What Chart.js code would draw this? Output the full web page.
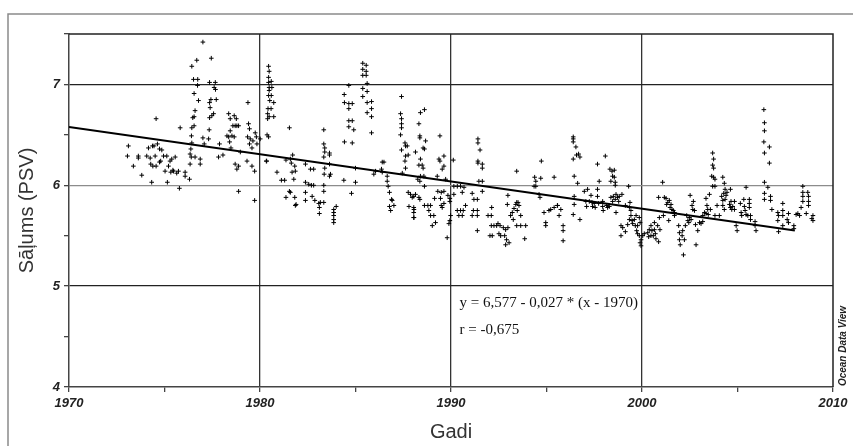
<!DOCTYPE html>
<html>
<head>
<meta charset="utf-8">
<script src="https://cdn.jsdelivr.net/npm/chart.js@4/dist/chart.umd.min.js"></script>
<style>
html,body{margin:0;padding:0;background:#fff;}
canvas{display:block;}
</style>
</head>
<body>
<canvas id="c" width="853" height="446"></canvas>
<script>
// ---- data ----
const yearsA = [
1973.11,1973.06,1973.63,1973.63,1973.37,1973.81,1974.07,1974.16,1974.25,1974.37,
1974.45,1974.28,1974.39,1974.33,1974.51,1974.56,1974.56,1974.63,1974.74,1974.74,
1974.80,1974.86,1974.95,1975.03,1975.12,1975.21,1975.15,1975.29,1975.33,1975.38,
1975.44,1975.47,1975.56,1975.64,1975.73,1975.82,1975.78,1976.08,1976.08,1976.31,
1976.34,1976.38,1976.34,1976.40,1976.43,1976.41,1976.43,1976.48,1976.55,1976.55,
1976.60,1976.55,1976.52,1976.74,1976.73,1976.78,1976.43,1976.69,1977.01,1976.87,
1976.87,1976.60,1977.01,1977.08,1977.31,1977.34,1977.36,1977.39,1977.36,1977.43,
1977.48,1977.45,1977.36,1977.66,1977.60,1977.67,1977.71,1977.57,1977.88,1977.83,
1978.06,1978.36,1978.44,1978.65,1978.58,1978.70,1978.79,1978.88,1978.76,1978.44,
1978.27,1978.36,1978.53,1978.41,1978.65,1978.48,1978.70,1978.79,1978.88,1978.88,
1978.97,1979.37,1979.40,1979.45,1979.35,1979.49,1979.45,1979.58,1979.63,1979.75,
1979.81,1979.84,1979.32,1979.58,1979.72,1979.72,1980.01,1980.33];
const salA = [
6.39,6.29,6.29,6.27,6.19,6.10,6.29,6.37,6.27,6.39,
6.39,6.21,6.19,6.03,6.29,6.19,6.66,6.41,6.36,6.23,
6.24,6.35,6.29,6.14,6.29,6.19,6.03,6.24,6.13,6.26,
6.15,6.14,6.28,6.12,6.14,6.57,5.97,6.13,6.09,6.06,
6.21,6.36,6.31,6.28,6.42,6.49,6.57,6.67,6.68,6.59,
6.74,6.91,7.05,7.05,6.99,6.84,7.18,7.24,7.42,6.26,
6.21,6.28,6.47,6.41,6.46,6.55,6.67,6.77,6.82,6.85,
6.69,7.26,7.02,7.02,6.97,6.95,6.85,6.71,6.41,6.28,
6.30,6.71,6.66,6.69,6.59,6.59,6.59,6.59,6.66,6.54,
6.49,6.48,6.49,6.43,6.48,6.37,6.21,6.16,6.19,5.94,
6.33,6.82,6.61,6.56,6.48,6.46,6.41,6.37,6.44,6.52,
6.48,6.41,6.24,6.19,6.14,5.85,6.46,6.24];

const yearsB = [
1980.45,1980.48,1980.45,1980.59,1980.45,1980.48,1980.62,1980.48,1980.45,1980.59,
1980.51,1980.72,1980.42,1980.58,1980.40,1980.48,1980.72,1980.40,1980.37,1980.45,
1980.35,
1980.89,1981.12,1981.29,1981.36,1981.54,1981.36,1981.59,1981.71,1981.64,1981.68,
1981.82,1981.85,1981.77,1981.59,1981.54,1981.82,1981.89,1981.85,1982.38,1982.38,
1982.38,1982.38,1982.64,1982.81,1982.55,1982.69,1982.81,1982.73,1982.87,1983.08,
1983.16,1983.11,1983.11,1983.34,1983.34,1983.34,1983.36,1983.39,1983.34,1983.39,
1983.39,1983.34,1983.34,1983.64,1983.64,1983.64,1983.69,1983.64,1983.86,1983.86,
1983.86,1983.86,1983.86,1983.99,1984.39,1984.42,1984.41,1984.42,1984.65,1984.65,
1984.65,1984.83,1984.65,1984.83,1984.65,1984.91,1984.83,1984.79,1985.00,1985.00,
1985.38,1985.56,1985.38,1985.56,1985.38,1985.56,1985.61,1985.38,1985.61,1985.38,
1985.61,1985.84,1985.84,1985.61,1985.84,1985.84,1985.96,1986.05,1986.36,1986.40,
1986.49,1986.40,1986.66,1986.66,1986.71,1986.78,1986.89,1986.78,1986.84,1987.01,
1986.92,1987.41,1987.36,1987.41,1987.41,1987.41,1987.36,1987.59,1987.62,1987.71,
1987.41,1987.62,1987.76,1987.59,1987.45,1987.62,1987.76,1987.88,1987.97,1987.80,
1988.06,1988.06];
const salB = [
7.18,7.13,7.07,7.03,7.02,6.97,6.97,6.94,6.89,6.89,
6.84,6.82,6.76,6.76,6.71,6.68,6.68,6.66,6.50,6.48,
6.24,
6.13,6.05,6.05,5.88,6.57,6.25,6.26,6.30,6.22,6.13,
6.19,6.14,6.06,5.93,5.94,5.88,5.81,5.80,6.21,6.03,
5.93,5.85,6.16,6.16,6.01,6.00,6.00,5.89,5.85,5.82,
5.83,5.78,5.72,5.83,5.94,6.00,6.11,6.17,6.28,6.33,
6.37,6.41,6.55,6.32,6.30,6.21,6.11,6.09,5.76,5.73,
5.70,5.66,5.63,5.79,6.05,6.43,6.90,6.82,6.81,6.76,
6.99,6.81,6.64,6.64,6.58,6.55,6.42,5.92,6.03,6.17,
7.21,7.19,7.15,7.13,7.09,7.09,7.01,6.96,6.93,6.88,
6.82,6.83,6.76,6.72,6.68,6.52,6.11,6.14,6.16,6.23,
6.23,6.13,6.09,6.04,5.99,5.93,5.86,5.79,5.75,5.80,
5.85,6.88,6.71,6.66,6.61,6.57,6.50,6.42,6.39,6.39,
6.35,6.29,6.30,6.24,6.12,6.17,5.93,5.91,5.88,5.79,
5.76,5.68];

const yearsC = [
1988.40,1988.61,1988.32,1988.37,1988.37,1988.67,1988.54,1988.61,1988.14,1988.40,
1988.49,1988.32,1988.54,1988.40,1988.58,1988.26,1988.37,1988.61,1988.14,1988.05,
1988.32,1988.37,1988.61,1988.79,1988.93,1988.05,1988.05,1988.05,1988.84,1988.93,
1989.10,1989.02,1989.19,1989.14,1989.42,1989.37,1989.42,1989.63,1989.54,1989.63,
1989.28,1989.72,1989.31,1989.49,1989.63,1989.45,1989.49,1989.63,1989.54,1989.84,
1989.94,1989.94,1990.12,1989.98,1989.94,1989.89,1989.80,1990.15,1990.15,1990.33,
1990.50,1990.59,1990.68,1990.33,1990.41,1990.50,1990.64,1990.59,1990.76,1991.11,
1991.20,1991.17,1991.11,1991.38,1991.38,1991.38,1991.38,1991.41,1991.41,1991.52,
1991.41,1991.41,1991.64,1991.64,1991.46,1991.64,1991.64,1991.94,1992.13,1992.11,
1992.11,1992.16,1992.04,1992.25,1992.39,1992.46,1992.57,1992.51,1992.60,1992.74,
1992.86,1992.81,1992.91,1992.86,1993.04,1992.98,1992.95,1992.98,1993.12,1993.21,
1993.26,1993.30,1993.39,1993.44,1993.51,1993.56,1993.47,1993.65,1993.44,1993.65,
1993.91,1993.86,1993.44,1994.38,1994.44,1994.70,1994.35,1994.44,1994.73,1994.61,
1994.66,1994.87,1994.96,1994.96,1995.13,1995.22,1995.40,1995.40,1995.57];
const salC = [
6.72,6.75,6.61,6.49,6.47,6.44,6.37,6.36,6.33,6.26,
6.20,6.20,6.17,6.09,6.09,6.06,6.04,5.99,5.91,5.89,
5.88,5.86,5.80,5.80,5.80,5.78,5.73,5.68,5.75,5.70,
5.70,5.60,5.63,5.87,6.49,6.26,6.24,6.29,6.16,6.19,
6.09,6.06,5.94,5.93,5.94,5.87,5.80,5.82,5.78,5.90,
5.87,5.84,6.25,5.70,5.65,5.62,5.48,5.99,5.91,5.99,
5.99,5.93,5.98,5.75,5.70,5.75,5.75,5.70,5.80,5.92,
5.86,5.75,5.70,5.86,5.75,5.70,5.55,6.46,6.42,6.35,
6.24,6.22,6.21,6.17,6.04,6.04,5.94,5.70,5.78,5.70,
5.60,5.50,5.50,5.60,5.60,5.62,5.60,5.52,5.50,5.58,
5.56,5.50,5.46,5.41,5.43,5.58,5.81,5.90,5.70,5.73,
5.66,5.77,5.81,5.83,5.83,5.80,5.75,5.70,5.60,5.60,
5.60,5.47,6.14,6.08,6.04,6.07,5.99,5.99,6.24,5.91,
5.88,5.73,5.63,5.60,5.75,5.76,6.08,5.78,5.80];

const yearsD = [
1995.58,1995.75,1995.66,1995.87,1995.87,1995.87,1996.40,1996.40,1996.40,1996.54,
1996.40,1996.57,1996.68,1996.75,1996.45,1996.63,1996.45,1996.45,1996.40,1996.75,
1996.98,1997.15,1997.06,1997.10,1997.24,1997.33,1997.38,1997.41,1997.50,1997.55,
1997.67,1997.67,1997.76,1997.67,1997.73,1997.94,1997.94,1997.97,1998.08,1998.15,
1998.20,1998.29,1998.32,1998.43,1998.55,1998.46,1998.55,1998.37,1998.60,1998.60,
1998.37,1998.50,1998.64,1998.46,1998.60,1998.72,1998.81,1998.78,1998.64,1998.95,
1999.30,1999.37,1999.34,1999.13,1998.90,1998.90,1998.99,1999.13,1999.25,1999.34,
1999.42,1999.42,1999.48,1999.51,1999.60,1999.65,1999.69,1999.77,1999.72,1999.77,
1999.86,1999.90,1999.86,1999.95,1999.90,1999.95,2000.04,2000.12,2000.30,2000.38,
2000.35,2000.47,2000.52,2000.47,2000.59,2000.65,2000.65,2000.70,2000.73,2000.82,
2000.87,2000.91,2000.94,2001.08,2000.87,2001.17,2001.26,2001.29,2001.35,2001.43,
2001.47,2001.57,2001.52,2001.64,2001.70,2001.70,2001.40,2001.12,2001.92,2001.96,
2001.96,2002.00,2002.10,2002.13,2002.17,2002.22,2002.27,2002.34,2002.40,2002.45,
2002.48,2002.52,2002.57,2002.62,2002.66,2002.69,2002.75,2002.80,2002.83,2002.92,
2003.01,2003.09,2003.18,2003.27];
const salD = [
5.80,5.76,5.70,5.60,5.55,5.45,6.48,6.46,6.43,6.38,
6.26,6.30,6.31,6.28,6.09,6.02,5.89,5.81,5.71,5.66,
5.94,5.96,5.84,5.79,5.84,5.90,5.83,5.79,5.82,5.78,
5.96,5.89,6.04,6.21,5.82,5.84,5.79,5.75,6.29,5.80,
5.78,5.79,6.16,6.14,6.15,6.09,6.08,6.04,6.03,6.00,
5.88,5.89,5.91,5.84,5.86,5.88,5.89,5.84,5.73,5.91,
5.99,5.83,5.78,5.80,5.60,5.50,5.58,5.54,5.61,5.66,
5.75,5.70,5.65,5.62,5.66,5.60,5.70,5.60,5.55,5.52,
5.68,5.63,5.50,5.46,5.43,5.40,5.50,5.52,5.53,5.56,
5.49,5.60,5.55,5.50,5.50,5.56,5.63,5.52,5.47,5.60,
5.44,5.68,5.56,6.03,5.88,5.88,5.87,5.81,5.83,5.85,
5.78,5.76,5.81,5.75,5.73,5.70,5.65,5.70,5.60,5.53,
5.46,5.41,5.50,5.55,5.31,5.46,5.60,5.70,5.65,5.63,
5.68,5.90,5.66,5.80,5.76,5.84,5.75,5.61,5.41,5.55,
5.63,5.62,5.70,5.73];

const yearsE = [
2003.18,2003.35,2003.40,2003.44,2003.35,2003.47,2003.53,2003.58,2003.70,2003.75,
2003.70,2003.75,2003.65,2003.75,2003.82,2003.70,2003.82,2003.93,2003.82,2004.05,
2004.23,2004.31,2004.35,2004.28,2004.40,2004.17,2004.23,2004.35,2004.45,2004.63,
2004.58,2004.23,2004.31,2004.66,2004.63,2004.75,2004.70,2004.84,2004.84,2004.93,
2004.98,2005.15,2005.22,2005.19,2005.33,2005.36,2005.40,2005.45,2005.45,2005.54,
2005.62,2005.62,2005.62,2005.68,2005.68,2005.92,2005.97,2005.92,2006.38,2006.41,
2006.41,2006.38,2006.67,2006.41,2006.67,2006.41,2006.59,2006.41,2006.41,2006.73,
2006.73,2006.80,2007.11,2007.15,2007.11,2007.15,2007.37,2007.37,2007.37,2007.37,
2007.60,2007.67,2007.67,2007.95,2007.95,2008.07,2008.16,2008.25,2008.33,2008.42,
2008.42,2008.42,2008.42,2008.68,2008.72,2008.72,2008.72,2008.60,2008.95,2008.95,
2008.89];
const salE = [
5.64,5.87,5.80,5.76,5.72,5.71,5.91,5.76,6.32,6.26,
6.20,6.17,6.09,6.08,6.06,5.99,5.99,5.80,5.70,5.70,
6.08,6.02,5.96,5.92,5.90,5.89,5.85,5.86,5.93,5.96,
5.81,5.80,5.76,5.84,5.78,5.79,5.76,5.84,5.76,5.60,
5.55,5.82,5.70,5.73,5.86,5.79,5.75,5.98,5.71,5.70,
5.86,5.82,5.78,5.70,5.66,5.60,5.55,5.64,6.75,6.62,
6.54,6.43,6.38,6.32,6.22,6.03,5.98,5.92,5.86,5.89,
5.85,5.76,5.73,5.70,5.65,5.54,5.82,5.75,5.70,5.60,
5.66,5.72,5.63,5.60,5.57,5.71,5.72,5.70,5.78,5.99,
5.93,5.89,5.84,5.93,5.89,5.84,5.80,5.72,5.70,5.65,
5.67];

// regression line endpoints (y = 6,577 - 0,027 * (x - 1970))
const trendYears = [1970, 2008];
const trendValues = [6.577, 5.551];

const xTicks = [1970, 1980, 1990, 2000, 2010];
const yTicks = [4, 5, 6, 7];
const equationText = 'y = 6,577 - 0,027 * (x - 1970)';
const rText = 'r = -0,675';
const yTitle = 'Sāļums (PSV)';
const xTitle = 'Gadi';

// ---- build ----
function pairs(xs, ys){ const n=Math.min(xs.length, ys.length); const out=[]; for(let i=0;i<n;i++) out.push({x:xs[i], y:ys[i]}); return out; }
const points = [].concat(pairs(yearsA,salA), pairs(yearsB,salB), pairs(yearsC,salC), pairs(yearsD,salD), pairs(yearsE,salE));
const trend = pairs(trendYears, trendValues);

const PLOT = {left:69, right:833, top:34, bottom:387};

const decor = {
  id:'decor',
  afterDraw(chart){
    const ctx = chart.ctx, a = chart.chartArea;
    ctx.save();
    // outer frame
    ctx.strokeStyle = '#8a8a8a'; ctx.lineWidth = 1.5;
    ctx.beginPath(); ctx.moveTo(8, 446); ctx.lineTo(8, 14); ctx.lineTo(853, 14); ctx.stroke();
    // plot frame top/right
    ctx.strokeStyle = '#222'; ctx.lineWidth = 1.5;
    ctx.beginPath(); ctx.moveTo(a.left, a.top); ctx.lineTo(a.right, a.top); ctx.lineTo(a.right, a.bottom); ctx.stroke();
    // equation
    ctx.fillStyle = '#111';
    ctx.font = '15px "Liberation Serif", "DejaVu Serif", serif';
    ctx.textBaseline = 'alphabetic'; ctx.textAlign = 'left';
    const w = ctx.measureText(equationText).width;
    const x0 = 638 - w;
    ctx.fillText(equationText, x0, 307);
    ctx.fillText(rText, x0, 334);
    // axis titles
    ctx.fillStyle = '#333';
    ctx.font = '20px "Liberation Sans", Arial, sans-serif';
    ctx.textAlign = 'center'; ctx.textBaseline = 'middle';
    ctx.fillText(xTitle, (a.left + a.right)/2, 432);
    ctx.save();
    ctx.translate(27, (a.top + a.bottom)/2);
    ctx.rotate(-Math.PI/2);
    ctx.fillText(yTitle, 0, 0);
    ctx.restore();
    // ODV mark
    ctx.save();
    ctx.fillStyle = '#222';
    ctx.font = 'italic bold 10px "Liberation Sans", Arial, sans-serif';
    ctx.translate(843, 346);
    ctx.rotate(-Math.PI/2);
    ctx.fillText('Ocean Data View', 0, 0);
    ctx.restore();
    ctx.restore();
  }
};

new Chart(document.getElementById('c'), {
  type: 'scatter',
  data: {
    datasets: [
      {
        data: points,
        pointStyle: 'cross',
        pointRadius: 2.3,
        borderWidth: 1,
        borderColor: '#000',
        backgroundColor: '#000',
        showLine: false,
        order: 2
      },
      {
        type: 'line',
        data: trend,
        borderColor: '#000',
        borderWidth: 2,
        pointRadius: 0,
        fill: false,
        tension: 0,
        order: 1
      }
    ]
  },
  options: {
    responsive: false,
    animation: false,
    events: [],
    layout: { padding: { left: 0, top: PLOT.top, right: 853 - PLOT.right, bottom: 0 } },
    plugins: { legend: { display: false }, tooltip: { enabled: false } },
    scales: {
      x: {
        type: 'linear',
        min: 1970, max: 2010,
        afterFit(s){ s.height = 446 - PLOT.bottom; },
        afterBuildTicks(s){ const t=[]; for(let v=1970; v<=2010; v+=5) t.push({value:v}); s.ticks = t; },
        ticks: {
          autoSkip: false, maxRotation: 0, padding: 4,
          color: '#222',
          font: { family: '"Liberation Sans", Arial, sans-serif', size: 13, style: 'italic', weight: 'bold' },
          callback: (v) => xTicks.includes(v) ? String(v) : ''
        },
        grid: {
          color: (c) => (c.tick && [1980,1990,2000].includes(c.tick.value)) ? '#333' : 'rgba(0,0,0,0)',
          tickColor: '#444',
          lineWidth: 1.3,
          tickLength: 5
        },
        border: { display: true, color: '#444', width: 1.5 }
      },
      y: {
        type: 'linear',
        min: 4, max: 7.5,
        afterFit(s){ s.width = PLOT.left; },
        afterBuildTicks(s){ const t=[]; for(let v=4; v<=7.5001; v+=0.5) t.push({value:Math.round(v*10)/10}); s.ticks = t; },
        ticks: {
          autoSkip: false, padding: 4,
          color: '#222',
          font: { family: '"Liberation Sans", Arial, sans-serif', size: 13, style: 'italic', weight: 'bold' },
          callback: (v) => yTicks.includes(v) ? String(v) : ''
        },
        grid: {
          color: (c) => {
            if (!c.tick) return 'rgba(0,0,0,0)';
            const v = c.tick.value;
            if (v === 6) return '#8c8c8c';
            if (v === 5 || v === 7) return '#222';
            return 'rgba(0,0,0,0)';
          },
          tickColor: '#444',
          lineWidth: 1.3,
          tickLength: 5
        },
        border: { display: true, color: '#444', width: 1.5 }
      }
    }
  },
  plugins: [decor]
});
</script>
</body>
</html>
